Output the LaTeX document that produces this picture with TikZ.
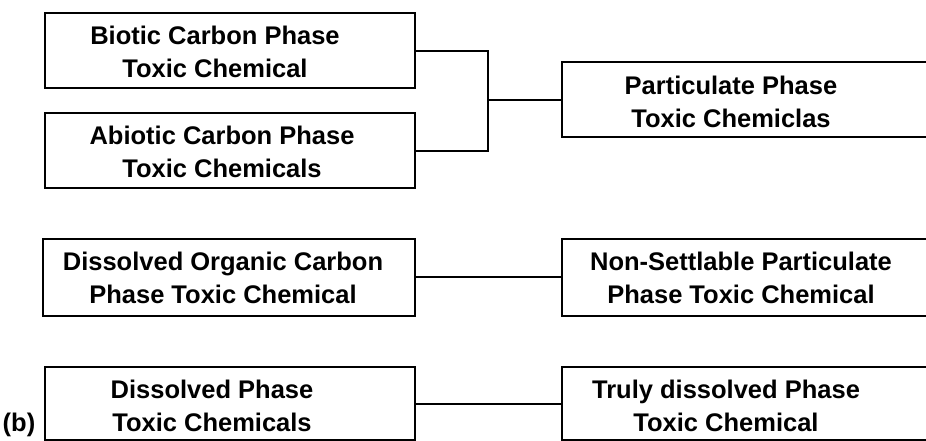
\documentclass[tikz,border=0pt]{standalone}
\usepackage{fontspec}
\setmainfont{Liberation Sans}
\begin{document}
\begin{tikzpicture}[x=1pt,y=-1pt,
  phasebox/.style={draw, line width=2pt, inner sep=0pt, rectangle},
  phasetext/.style={align=center, inner sep=0pt,
    font=\bfseries\fontsize{25.5}{32.5}\selectfont},
  link/.style={line width=2pt}]
  \useasboundingbox (0,0) rectangle (926,440);

  % boxes (empty frames)
  \node[phasebox, minimum width=370pt, minimum height=75pt] (biotic)   at (230,50.5)  {};
  \node[phasebox, minimum width=370pt, minimum height=75pt] (abiotic)  at (230,150.5) {};
  \node[phasebox, minimum width=378pt, minimum height=75pt] (partic)   at (751,99.5)  {};
  \node[phasebox, minimum width=372pt, minimum height=77pt] (doc)      at (229,277)   {};
  \node[phasebox, minimum width=378pt, minimum height=77pt] (nonsettl) at (751,277)   {};
  \node[phasebox, minimum width=370pt, minimum height=73pt] (dissolv)  at (230,403.5) {};
  \node[phasebox, minimum width=378pt, minimum height=73pt] (truly)    at (751,403.5) {};

  % box labels
  \node[phasetext] (tbiotic)   at (215,52)  {Biotic Carbon Phase\\Toxic Chemical};
  \node[phasetext] (tabiotic)  at (222,152) {Abiotic Carbon Phase\\Toxic Chemicals};
  \node[phasetext] (tpartic)   at (731,102) {Particulate Phase\\Toxic Chemiclas};
  \node[phasetext] (tdoc)      at (223,278) {Dissolved Organic Carbon\\Phase Toxic Chemical};
  \node[phasetext] (tnonsettl) at (741,278) {Non-Settlable Particulate\\Phase Toxic Chemical};
  \node[phasetext] (tdissolv)  at (212,406) {Dissolved Phase\\Toxic Chemicals};
  \node[phasetext] (ttruly)    at (726,406) {Truly dissolved Phase\\Toxic Chemical};

  % panel tag
  \node[phasetext, anchor=base] (tag) at (19,431) {(b)};

  % connectors
  \coordinate (join) at (488,99.5);
  \draw[link] (biotic.east) -| (join);
  \draw[link] (abiotic.east) -| (join);
  \draw[link] (join) -- (partic.west);
  \draw[link] (doc.east) -- (nonsettl.west);
  \draw[link] (dissolv.east) -- (truly.west);
\end{tikzpicture}
\end{document}
